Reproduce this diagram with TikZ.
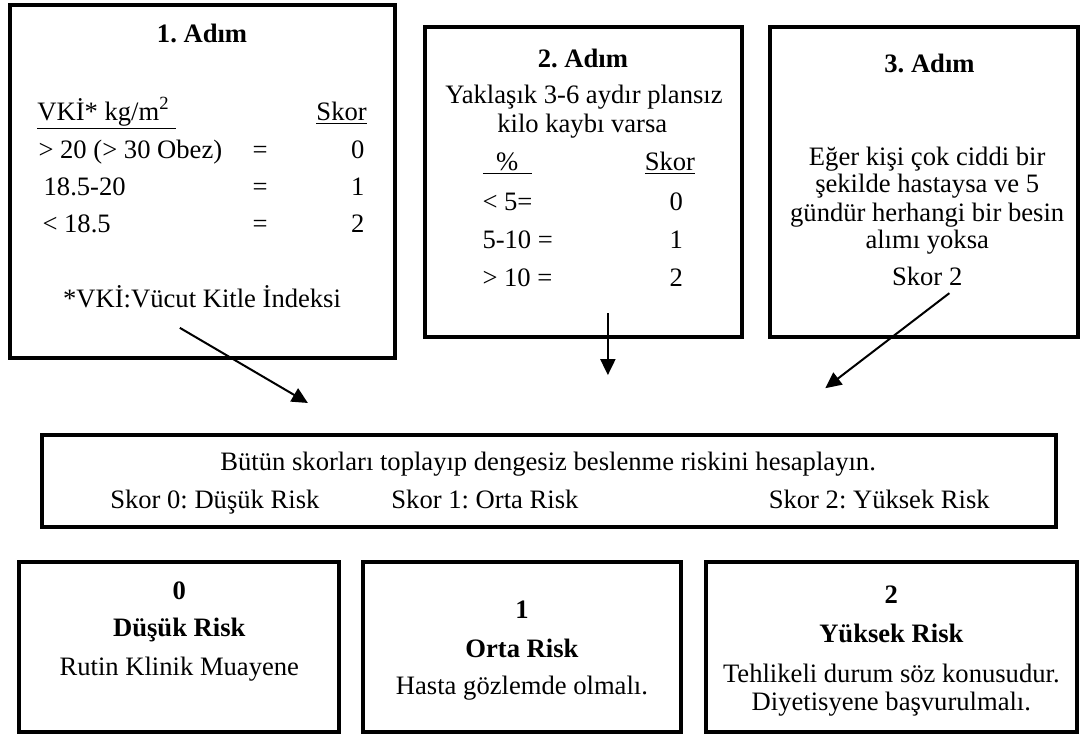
\documentclass[tikz,border=0pt]{standalone}
\usepackage{fontspec}
\setmainfont{Liberation Serif}
\usepackage{tikz}
\usetikzlibrary{arrows.meta,positioning}
\frenchspacing

\begin{document}
\begin{tikzpicture}[
  stepbox/.style={draw, line width=2pt, inner sep=0pt},
  lbl/.style={font=\fontsize{13.3}{15}\selectfont, inner sep=0pt, anchor=base},
  hdr/.style={lbl, font=\fontsize{13.3}{15}\selectfont\bfseries},
  arrow/.style={-{Triangle[length=8pt,width=7.5pt]}, line width=1pt}
]
\useasboundingbox (0,0) rectangle (19.08,-12.90);

% --- adimlar ---------------------------------------------------------------
\node[stepbox, minimum width=6.77cm, minimum height=6.20cm] (adim1) at (3.56,-3.19) {};
\node[stepbox, minimum width=5.57cm, minimum height=5.45cm] (adim2) at (10.25,-3.20) {};
\node[stepbox, minimum width=5.41cm, minimum height=5.45cm] (adim3) at (16.24,-3.20) {};

\node[hdr] (baslik1) at (3.55,-0.74) {1. Adım};
\node[lbl, anchor=base west] (vki) at (0.65,-2.11) {\underline{VKİ* kg/m\textsuperscript{2}\ }};
\node[lbl, anchor=base east] (skor1) at (6.45,-2.11) {\underline{Skor}};
\node[lbl, anchor=base west] (vkiA) at (0.67,-2.78) {> 20 (> 30 Obez)};
\node[lbl, anchor=base west] (vkiB) at (0.76,-3.43) {18.5-20};
\node[lbl, anchor=base west] (vkiC) at (0.74,-4.09) {< 18.5};
\node[lbl] (esA) at (4.57,-2.78) {=};
\node[lbl] (esB) at (4.57,-3.43) {=};
\node[lbl] (esC) at (4.57,-4.09) {=};
\node[lbl, anchor=base east] (puanA) at (6.41,-2.78) {0};
\node[lbl, anchor=base east] (puanB) at (6.41,-3.43) {1};
\node[lbl, anchor=base east] (puanC) at (6.41,-4.09) {2};
\node[lbl] (vkinot) at (3.55,-5.41) {*VKİ:Vücut Kitle İndeksi};

\node[hdr] (baslik2) at (10.24,-1.18) {2. Adım};
\node[lbl] (kayip1) at (10.26,-1.81) {Yaklaşık 3-6 aydır plansız};
\node[lbl] (kayip2) at (10.23,-2.32) {kilo kaybı varsa};
\node[lbl] (yuzde) at (8.91,-2.99) {\underline{\ \ \%\ \ }};
\node[lbl] (skor2) at (11.77,-2.99) {\underline{Skor}};
\node[lbl, anchor=base west] (kayipA) at (8.47,-3.69) {< 5=};
\node[lbl, anchor=base west] (kayipB) at (8.47,-4.36) {5-10 =};
\node[lbl, anchor=base west] (kayipC) at (8.47,-5.04) {> 10 =};
\node[lbl] (kpuanA) at (11.88,-3.69) {0};
\node[lbl] (kpuanB) at (11.88,-4.36) {1};
\node[lbl] (kpuanC) at (11.88,-5.04) {2};

\node[hdr] (baslik3) at (16.33,-1.27) {3. Adım};
\node[lbl] (hasta1) at (16.29,-2.90) {Eğer kişi çok ciddi bir};
\node[lbl] (hasta2) at (16.29,-3.39) {şekilde hastaysa ve 5};
\node[lbl] (hasta3) at (16.29,-3.90) {gündür herhangi bir besin};
\node[lbl] (hasta4) at (16.29,-4.36) {alımı yoksa};
\node[lbl] (skor3) at (16.29,-5.01) {Skor 2};

% --- toplam skor -----------------------------------------------------------
\node[stepbox, minimum width=17.82cm, minimum height=1.62cm] (toplam) at (9.65,-8.45) {};
\node[lbl] (toplamtxt) at (9.63,-8.26) {Bütün skorları toplayıp dengesiz beslenme riskini hesaplayın.};
\node[lbl, anchor=base west] (risk0) at (1.93,-8.93) {Skor 0: Düşük Risk};
\node[lbl, anchor=base west] (risk1) at (6.87,-8.93) {Skor 1: Orta Risk};
\node[lbl, anchor=base west] (risk2) at (13.50,-8.93) {Skor 2: Yüksek Risk};

\coordinate (ok1a) at (3.16,-5.76);
\coordinate (ok1b) at (5.41,-7.08);
\coordinate (ok2a) at (10.68,-5.50);
\coordinate (ok2b) at (10.68,-6.59);
\coordinate (ok3a) at (16.68,-5.15);
\coordinate (ok3b) at (14.50,-6.82);
\draw[arrow] (ok1a) -- (ok1b);
\draw[arrow] (ok2a) -- (ok2b);
\draw[arrow] (ok3a) -- (ok3b);

% --- sonuc kutulari --------------------------------------------------------
\node[stepbox, minimum width=5.62cm, minimum height=2.99cm] (dusuk) at (3.15,-11.37) {};
\node[stepbox, minimum width=5.59cm, minimum height=2.99cm] (orta) at (9.17,-11.37) {};
\node[stepbox, minimum width=6.52cm, minimum height=2.99cm] (yuksek) at (15.67,-11.37) {};

\node[hdr] (no0) at (3.15,-10.54) {0};
\node[hdr] (ad0) at (3.15,-11.19) {Düşük Risk};
\node[lbl] (not0) at (3.15,-11.86) {Rutin Klinik Muayene};

\node[hdr] (no1) at (9.17,-10.86) {1};
\node[hdr] (ad1) at (9.17,-11.55) {Orta Risk};
\node[lbl] (not1) at (9.17,-12.21) {Hasta gözlemde olmalı.};

\node[hdr] (no2) at (15.66,-10.61) {2};
\node[hdr] (ad2) at (15.66,-11.28) {Yüksek Risk};
\node[lbl] (not2a) at (15.66,-11.99) {Tehlikeli durum söz konusudur.};
\node[lbl] (not2b) at (15.66,-12.48) {Diyetisyene başvurulmalı.};

\end{tikzpicture}
\end{document}
